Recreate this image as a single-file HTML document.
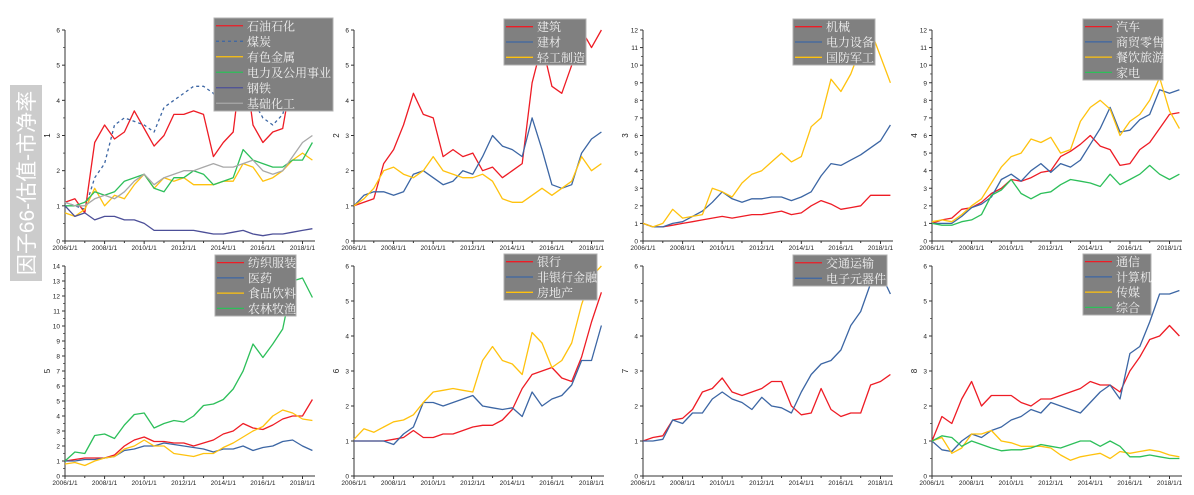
<!DOCTYPE html>
<html><head><meta charset="utf-8">
<style>
body{margin:0;background:#fff;width:1194px;height:495px;overflow:hidden;font-family:"Liberation Sans",sans-serif}
#title{position:absolute;left:10px;top:85px;width:32px;height:196px;background:#cccccc}
#title span{position:absolute;left:50%;top:50%;transform:translate(-50%,-50%) rotate(-90deg);white-space:nowrap;color:#fff;font-size:21px;font-family:"Liberation Sans","Noto Sans CJK SC",sans-serif}
</style></head><body>
<div id="title"><span>因子66-估值-市净率</span></div>
<svg id="svg" width="1194" height="495" style="position:absolute;left:0;top:0"></svg>
<script>
const years=[2006,2006.5,2007,2007.5,2008,2008.5,2009,2009.5,2010,2010.5,2011,2011.5,2012,2012.5,2013,2013.5,2014,2014.5,2015,2015.5,2016,2016.5,2017,2017.5,2018,2018.5];
const xTickLabels=["2006/1/1","2008/1/1","2010/1/1","2012/1/1","2014/1/1","2016/1/1","2018/1/1"];
const p1names=["石油石化","煤炭","有色金属","电力及公用事业","钢铁","基础化工"];
const p1a=[1.1,1.2,0.8,2.8,3.3,2.9,3.1,3.7,3.2,2.7,3.0,3.6,3.6,3.7,3.6,2.4,2.8,3.1,5.4,3.3,2.8,3.1,3.2,4.8,6.0,6.0];
const p1b=[1.1,1.0,0.9,1.8,2.2,3.3,3.5,3.4,3.3,3.1,3.8,4.0,4.2,4.4,4.4,4.2,3.7,3.8,4.4,4.0,3.5,3.3,3.6,4.6,5.2,5.9];
const p1c=[0.8,0.7,0.9,1.5,1.0,1.3,1.2,1.6,1.9,1.5,1.8,1.7,1.8,1.6,1.6,1.6,1.7,1.7,2.2,2.1,1.7,1.8,2.0,2.3,2.5,2.3];
const p1d=[1.0,1.0,1.1,1.4,1.3,1.4,1.7,1.8,1.9,1.5,1.4,1.8,1.8,2.0,1.9,1.6,1.7,1.8,2.6,2.3,2.2,2.1,2.1,2.3,2.3,2.8];
const p1e=[1.0,0.7,0.8,0.6,0.7,0.7,0.6,0.6,0.5,0.3,0.3,0.3,0.3,0.3,0.25,0.2,0.2,0.25,0.3,0.2,0.15,0.2,0.2,0.25,0.3,0.35];
const p1f=[1.1,1.0,1.0,1.2,1.3,1.2,1.4,1.7,1.9,1.6,1.8,1.9,2.0,2.0,2.1,2.2,2.1,2.1,2.2,2.3,2.0,1.9,2.0,2.4,2.8,3.0];
const p2names=["建筑","建材","轻工制造"];
const p2a=[1.0,1.1,1.2,2.2,2.6,3.3,4.2,3.6,3.5,2.4,2.6,2.4,2.5,2.0,2.1,1.8,2.0,2.2,4.5,5.6,4.4,4.2,5.0,6.0,5.5,6.0];
const p2b=[1.0,1.3,1.4,1.4,1.3,1.4,1.9,2.0,1.8,1.6,1.7,2.0,1.9,2.4,3.0,2.7,2.6,2.4,3.5,2.6,1.6,1.5,1.6,2.5,2.9,3.1];
const p2c=[1.0,1.2,1.5,2.0,2.1,1.9,1.8,2.0,2.4,2.0,1.9,1.8,1.8,1.9,1.7,1.2,1.1,1.1,1.3,1.5,1.3,1.5,1.7,2.4,2.0,2.2];
const p3names=["机械","电力设备","国防军工"];
const p3a=[1.0,0.8,0.8,0.9,1.0,1.1,1.2,1.3,1.4,1.3,1.4,1.5,1.5,1.6,1.7,1.5,1.6,2.0,2.3,2.1,1.8,1.9,2.0,2.6,2.6,2.6];
const p3b=[1.0,0.8,0.8,1.0,1.1,1.4,1.7,2.2,2.8,2.4,2.2,2.4,2.4,2.5,2.5,2.3,2.5,2.8,3.7,4.4,4.3,4.6,4.9,5.3,5.7,6.6];
const p3c=[1.0,0.8,1.0,1.8,1.3,1.4,1.5,3.0,2.8,2.5,3.3,3.8,4.0,4.5,5.0,4.5,4.8,6.5,7.0,9.2,8.5,9.5,11.0,12.0,10.5,9.0];
const p4names=["汽车","商贸零售","餐饮旅游","家电"];
const p4a=[1.0,1.2,1.3,1.8,1.9,2.2,2.7,3.0,3.5,3.4,3.6,3.9,4.0,4.8,5.1,5.5,6.0,5.4,5.2,4.3,4.4,5.2,5.6,6.4,7.2,7.3];
const p4b=[1.0,1.0,1.0,1.4,1.9,2.1,2.5,3.5,3.8,3.4,4.0,4.4,3.9,4.4,4.2,4.6,5.5,6.4,7.6,6.2,6.3,6.9,7.2,8.6,8.4,8.6];
const p4c=[1.1,1.2,1.1,1.5,2.0,2.4,3.3,4.2,4.8,5.0,5.8,5.6,5.9,5.0,5.2,6.8,7.6,8.0,7.5,6.0,6.8,7.2,8.0,9.3,7.4,6.4];
const p4d=[1.0,0.9,0.9,1.1,1.2,1.5,2.6,2.9,3.5,2.7,2.4,2.7,2.8,3.2,3.5,3.4,3.3,3.1,3.8,3.2,3.5,3.8,4.3,3.8,3.5,3.8];
const p5names=["纺织服装","医药","食品饮料","农林牧渔"];
const p5a=[1.0,1.1,1.2,1.2,1.2,1.4,2.0,2.4,2.6,2.3,2.3,2.2,2.2,2.0,2.2,2.4,2.8,3.0,3.5,3.2,3.1,3.4,3.8,4.0,4.0,5.1];
const p5b=[1.0,1.0,1.1,1.1,1.2,1.3,1.7,1.8,2.0,2.0,2.2,2.1,2.0,1.9,1.8,1.6,1.8,1.8,2.0,1.7,1.9,2.0,2.3,2.4,2.0,1.7];
const p5c=[0.8,0.9,0.7,1.0,1.2,1.3,1.8,2.0,2.4,2.0,2.0,1.5,1.4,1.3,1.5,1.5,1.9,2.2,2.6,3.0,3.3,4.0,4.4,4.2,3.8,3.7];
const p5d=[1.0,1.6,1.5,2.7,2.8,2.5,3.4,4.1,4.2,3.2,3.5,3.7,3.6,4.0,4.7,4.8,5.1,5.8,7.0,8.8,7.9,8.8,9.8,13.0,13.2,11.9];
const p6names=["银行","非银行金融","房地产"];
const p6a=[1,1,1,1,1.05,1.1,1.3,1.1,1.1,1.2,1.2,1.3,1.4,1.45,1.45,1.6,1.9,2.5,2.9,3.0,3.1,2.8,2.7,3.4,4.4,5.25];
const p6b=[1,1,1,1,0.9,1.2,1.4,2.1,2.1,2.0,2.1,2.2,2.3,2.0,1.95,1.9,1.95,1.7,2.4,2.0,2.2,2.3,2.6,3.3,3.3,4.3];
const p6c=[1.05,1.35,1.25,1.4,1.55,1.6,1.75,2.1,2.4,2.45,2.5,2.45,2.4,3.3,3.7,3.3,3.2,2.9,4.1,3.8,3.1,3.3,3.8,4.9,5.7,6.0];
const p7names=["交通运输","电子元器件"];
const p7a=[1.0,1.1,1.15,1.6,1.65,1.9,2.4,2.5,2.8,2.4,2.3,2.4,2.5,2.7,2.7,2.0,1.75,1.8,2.5,1.9,1.7,1.8,1.8,2.6,2.7,2.9];
const p7b=[1.0,1.0,1.05,1.6,1.5,1.8,1.8,2.2,2.4,2.2,2.1,1.9,2.25,2.0,1.95,1.8,2.4,2.9,3.2,3.3,3.6,4.3,4.7,5.5,5.8,5.2];
const p8names=["通信","计算机","传媒","综合"];
const p8a=[1.0,1.7,1.5,2.2,2.7,2.0,2.3,2.3,2.3,2.1,2.0,2.2,2.2,2.3,2.4,2.5,2.7,2.6,2.6,2.4,3.0,3.4,3.9,4.0,4.3,4.0];
const p8b=[1.0,0.75,0.7,1.0,1.2,1.1,1.3,1.4,1.6,1.7,1.9,1.8,2.1,2.0,1.9,1.8,2.1,2.4,2.6,2.2,3.5,3.7,4.4,5.2,5.2,5.3];
const p8c=[1.0,1.1,0.65,0.8,1.2,1.2,1.3,1.0,0.95,0.85,0.85,0.85,0.8,0.6,0.45,0.55,0.6,0.65,0.5,0.7,0.65,0.7,0.75,0.7,0.6,0.55];
const p8d=[1.0,1.15,1.1,0.85,1.0,0.9,0.8,0.72,0.75,0.75,0.8,0.9,0.85,0.8,0.9,1.0,1.0,0.85,1.0,0.85,0.55,0.55,0.6,0.55,0.5,0.5];

const RED="#ee1c25",BLUE="#3c66a4",YEL="#ffc20e",GRN="#2dbf5a",STEEL="#4c4f98",GREY="#a8a8a8";
const NS="http://www.w3.org/2000/svg";
const svg=document.getElementById('svg');
function mk(tag,attrs,parent){const e=document.createElementNS(NS,tag);for(const k in attrs)e.setAttribute(k,attrs[k]);(parent||svg).appendChild(e);return e;}

const panels=[
 {id:1,x0:65,yt:30,yb:241,max:6,names:p1names,series:[p1a,p1b,p1c,p1d,p1e,p1f],colors:[RED,BLUE,YEL,GRN,STEEL,GREY],dash:[0,1,0,0,0,0],leg:[214,18,119,93]},
 {id:2,x0:354,yt:30,yb:241,max:6,names:p2names,series:[p2a,p2b,p2c],colors:[RED,BLUE,YEL],dash:[0,0,0],leg:[504,19,82,46]},
 {id:3,x0:643,yt:30,yb:241,max:12,names:p3names,series:[p3a,p3b,p3c],colors:[RED,BLUE,YEL],dash:[0,0,0],leg:[793,19,82,46]},
 {id:4,x0:932,yt:30,yb:241,max:12,names:p4names,series:[p4a,p4b,p4c,p4d],colors:[RED,BLUE,YEL,GRN],dash:[0,0,0,0],leg:[1083,19,80,61]},
 {id:5,x0:65,yt:266,yb:476,max:14,names:p5names,series:[p5a,p5b,p5c,p5d],colors:[RED,BLUE,YEL,GRN],dash:[0,0,0,0],leg:[215,255,81,61]},
 {id:6,x0:354,yt:266,yb:476,max:6,names:p6names,series:[p6a,p6b,p6c],colors:[RED,BLUE,YEL],dash:[0,0,0],leg:[504,254,93,46]},
 {id:7,x0:643,yt:266,yb:476,max:6,names:p7names,series:[p7a,p7b],colors:[RED,BLUE],dash:[0,0],leg:[793,255,94,31]},
 {id:8,x0:932,yt:266,yb:476,max:6,names:p8names,series:[p8a,p8b,p8c,p8d],colors:[RED,BLUE,YEL,GRN],dash:[0,0,0,0],leg:[1083,254,68,61]}
];
const PXYEAR=237.5/12;
panels.forEach(p=>{
 const g=mk('g',{});
 
 
 const xs=t=>p.x0+(t-2006)*PXYEAR;
 const ys=v=>p.yb-(v/p.max)*(p.yb-p.yt);
 const xEnd=p.x0+250;
 const ax=mk('path',{d:`M${p.x0},${p.yt} V${p.yb} H${xEnd}`,stroke:'#333',fill:'none','stroke-width':1},g);
 
 
 for(let v=0;v<=p.max;v++){
  mk('line',{x1:p.x0-3,x2:p.x0,y1:ys(v),y2:ys(v),stroke:'#333','stroke-width':1},g);
  if(v<p.max)mk('line',{x1:p.x0-2,x2:p.x0,y1:ys(v+0.5),y2:ys(v+0.5),stroke:'#333','stroke-width':0.7},g);
  const t=mk('text',{x:p.x0-5,y:ys(v)+2.5,'font-size':6.5,'text-anchor':'end',fill:'#222'},g);
  t.textContent=v;
  
  
 }
 for(let yr=2006;yr<=2018;yr++){
  mk('line',{x1:xs(yr),x2:xs(yr),y1:p.yb,y2:p.yb+(yr%2===0?3:2),stroke:'#333','stroke-width':1},g);
 }
 xTickLabels.forEach((lb,i)=>{
  const t=mk('text',{x:xs(2006+2*i),y:p.yb+9,'font-size':6.5,'text-anchor':'middle',fill:'#222'},g);
  t.textContent=lb;
  
  
 });
 const yl=mk('text',{x:0,y:0,'font-size':8,'text-anchor':'middle',fill:'#222',transform:`translate(${p.x0-15},${(p.yt+p.yb)/2}) rotate(-90)`},g);
 yl.textContent=p.id;
 
 
 p.series.forEach((s,k)=>{
  const d=s.map((v,i)=>(i?'L':'M')+xs(years[i]).toFixed(1)+','+ys(v).toFixed(1)).join(' ');
  const attrs={d:d,stroke:p.colors[k],fill:'none','stroke-width':1.3,'stroke-linejoin':'round'};
  if(p.dash[k])attrs['stroke-dasharray']='3,3';
  const l=mk('path',attrs,g);
  
  
 });
 const [lx,ly,lw,lh]=p.leg;
 const lg=mk('g',{},g);
 
 
 mk('rect',{x:lx,y:ly,width:lw,height:lh,fill:'#808080',stroke:'#b0b0b0','stroke-width':1},lg);
 const rh=lh/p.names.length;
 p.names.forEach((n,k)=>{
  const cy=ly+rh*(k+0.5);
  const ll=mk('line',{x1:lx+2,x2:lx+29,y1:cy,y2:cy,stroke:p.colors[k],'stroke-width':1.3},lg);
  if(p.dash[k])ll.setAttribute('stroke-dasharray','3,3');
  const t=mk('text',{x:lx+33,y:cy+4.5,'font-size':12,fill:'#f0f0f0','font-family':'"Liberation Serif","Noto Serif CJK SC",serif'},lg);
  t.textContent=n;
  
  
 });
});
</script>
</body></html>
